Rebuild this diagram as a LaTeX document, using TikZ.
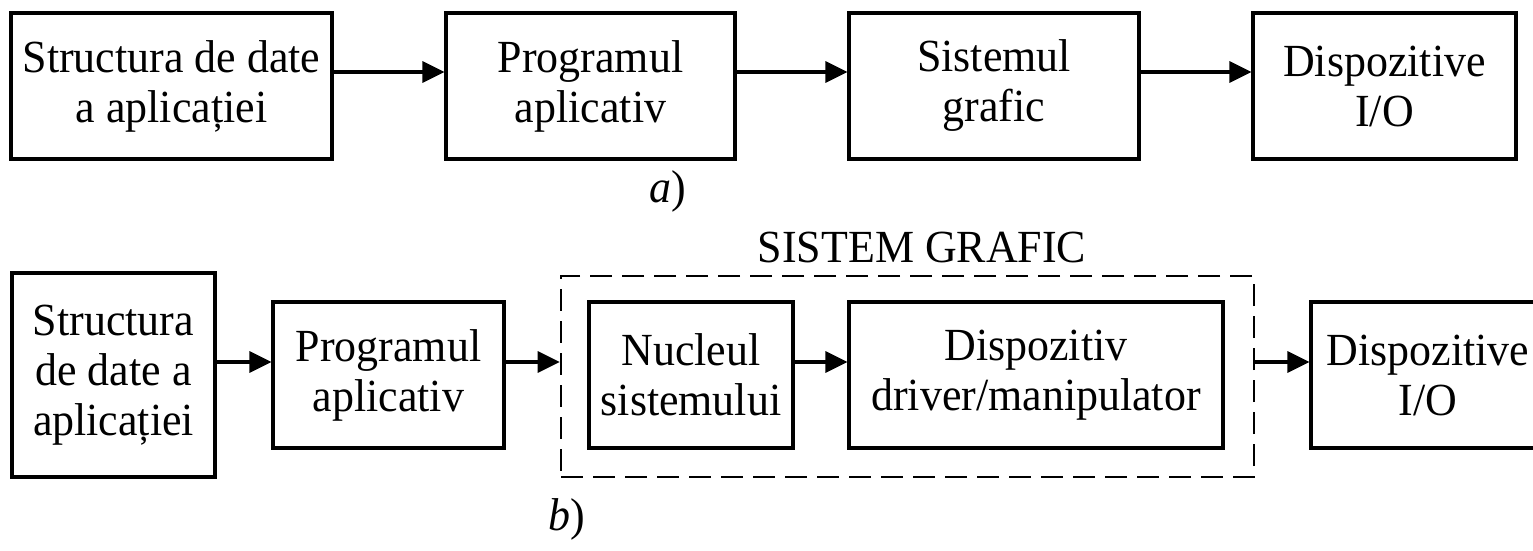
\documentclass[tikz,border=0pt]{standalone}
\usepackage{fontspec}
\setmainfont{Liberation Serif}[FakeStretch=0.955]
\usetikzlibrary{arrows.meta}
\begin{document}
\begin{tikzpicture}[x=1pt,y=-1pt,
  box/.style={draw, line width=3.2pt, inner sep=0pt, align=center,
    font=\fontsize{46}{50}\selectfont},
  arr/.style={line width=3.2pt, -{Triangle[length=22pt,width=21pt]}},
  grp/.style={draw, line width=2.6pt, dash pattern=on 22pt off 10pt, inner sep=0pt},
  lbl/.style={inner sep=0pt, font=\fontsize{46}{50}\selectfont}]
\clip (0,0) rectangle (1533,551);
\fill[white] (0,0) rectangle (1533,551);
% row a
\node[box, minimum width=321pt, minimum height=146pt] (A1) at (171.5,86) {Structura de date\\a aplicației};
\node[box, minimum width=289pt, minimum height=146pt] (A2) at (590.5,86) {Programul\\aplicativ};
\node[box, minimum width=290pt, minimum height=146pt] (A3) at (994,86) {Sistemul\\grafic};
\node[box, minimum width=263pt, minimum height=146pt] (A4) at (1384.5,86) {Dispozitive\\I/O};
\draw[arr] ([yshift=14pt]A1.east) -- ([yshift=14pt]A2.west);
\draw[arr] ([yshift=14pt]A2.east) -- ([yshift=14pt]A3.west);
\draw[arr] ([yshift=14pt]A3.east) -- ([yshift=14pt]A4.west);
\node[lbl] (la) at (668,191) {\textit{a})};
% row b
\node[box, minimum width=203pt, minimum height=204pt] (B1) at (113.5,375) {Structura\\de date a\\aplicației};
\node[box, minimum width=231pt, minimum height=146pt] (B2) at (388.5,375) {Programul\\aplicativ};
\node[grp, minimum width=693pt, minimum height=201pt] (G) at (907.5,376.5) {};
\node[lbl] (lg) at (922,247) {SISTEM GRAFIC};
\node[box, minimum width=204pt, minimum height=146pt] (N) at (691,375) {Nucleul\\sistemului};
\node[box, minimum width=374pt, minimum height=146pt] (D) at (1036,375) {Dispozitiv\\driver/manipulator};
\node[box, minimum width=234pt, minimum height=146pt] (O) at (1428,375) {Dispozitive\\I/O};
\draw[arr] ([yshift=13pt]B1.east) -- ([yshift=13pt]B2.west);
\draw[arr] ([yshift=13pt]B2.east) -- ([yshift=13pt]B2.east -| G.west);
\draw[arr] ([yshift=13pt]N.east) -- ([yshift=13pt]D.west);
\draw[arr] ([yshift=13pt]O.west -| G.east) -- ([yshift=13pt]O.west);
\node[lbl] (lb) at (567,519) {\textit{b})};
\end{tikzpicture}
\end{document}
